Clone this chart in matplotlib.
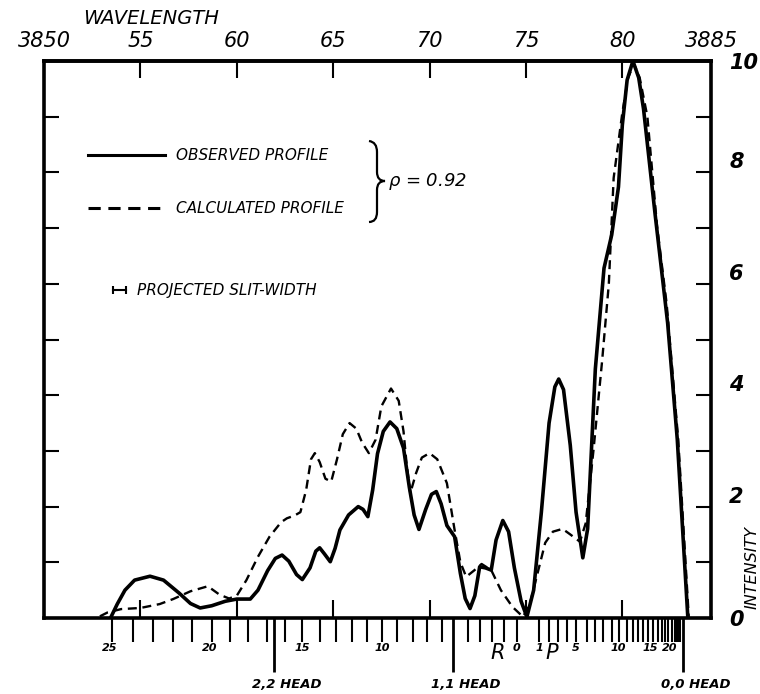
import numpy as np
import matplotlib.pyplot as plt
from matplotlib.path import Path
from matplotlib.patches import PathPatch

# observed profile: wavelength (A) and relative intensity
obs_wl = [3853.45, 3853.8, 3854.2, 3854.7, 3855.5, 3856.2, 3857.0, 3857.6, 3858.1, 3858.7,
          3859.4, 3860.0, 3860.7, 3861.1, 3861.6, 3862.0, 3862.35, 3862.7, 3863.1, 3863.4,
          3863.8, 3864.1, 3864.3, 3864.55, 3864.85, 3865.1, 3865.35, 3865.8, 3866.3, 3866.55,
          3866.8, 3867.05, 3867.3, 3867.6, 3867.95, 3868.3, 3868.65, 3868.95, 3869.2, 3869.45,
          3869.8, 3870.1, 3870.35, 3870.6, 3870.9, 3871.3, 3871.6, 3871.85, 3872.1, 3872.35,
          3872.6, 3872.9, 3873.2, 3873.45, 3873.8, 3874.1, 3874.4, 3874.75, 3875.05, 3875.4,
          3875.8, 3876.2, 3876.5, 3876.7, 3876.95, 3877.3, 3877.6, 3877.95, 3878.2, 3878.6,
          3879.05, 3879.45, 3879.8, 3880.0, 3880.25, 3880.55, 3880.85, 3881.1, 3881.7, 3882.35,
          3882.85, 3883.4]
obs_int = [0.0, 0.25, 0.5, 0.68, 0.75, 0.68, 0.45, 0.26, 0.18, 0.22,
           0.30, 0.34, 0.34, 0.5, 0.85, 1.07, 1.13, 1.02, 0.78, 0.69,
           0.9, 1.2, 1.26, 1.15, 1.01, 1.25, 1.58, 1.85, 2.0, 1.95,
           1.82, 2.3, 2.95, 3.35, 3.52, 3.4, 3.05, 2.35, 1.85, 1.59,
           1.95, 2.22, 2.27, 2.05, 1.66, 1.46, 0.8, 0.35, 0.17, 0.4,
           0.92, 0.9, 0.86, 1.4, 1.75, 1.55, 0.9, 0.3, 0.02, 0.5,
           1.9, 3.5, 4.15, 4.29, 4.1, 3.1, 1.9, 1.08, 1.6, 4.47,
           6.28, 6.88, 7.74, 8.85, 9.66, 10.0, 9.7, 9.14, 7.25, 5.3,
           3.21, 0.0]

# calculated profile
calc_wl = [3852.9, 3853.3, 3854.0, 3855.0, 3856.0, 3856.7, 3857.6, 3858.5, 3859.1, 3859.6,
           3860.0, 3860.5, 3861.1, 3861.7, 3862.3, 3862.6, 3863.0, 3863.3, 3863.6, 3863.85,
           3864.05, 3864.3, 3864.6, 3864.9, 3865.2, 3865.5, 3865.85, 3866.2, 3866.5, 3866.85,
           3867.2, 3867.5, 3868.0, 3868.4, 3868.65, 3868.8, 3869.0, 3869.3, 3869.6, 3870.0,
           3870.4, 3870.9, 3871.3, 3871.6, 3871.9, 3872.3, 3872.7, 3873.2, 3873.7, 3874.3,
           3874.85, 3875.2, 3875.6, 3876.0, 3876.4, 3876.9, 3877.3, 3877.8, 3878.1, 3878.5,
           3878.95, 3879.3, 3879.55, 3879.8, 3880.0, 3880.3, 3880.6, 3880.9, 3881.3, 3881.8,
           3882.3, 3882.9, 3883.45]
calc_int = [0.03, 0.1, 0.16, 0.18, 0.25, 0.34, 0.48, 0.57, 0.42, 0.35,
            0.4, 0.68, 1.1, 1.46, 1.72, 1.79, 1.84, 1.9, 2.3, 2.85,
            2.96, 2.8, 2.5, 2.45, 2.85, 3.3, 3.5, 3.4, 3.15, 2.96,
            3.2, 3.8, 4.12, 3.9, 3.35, 2.8, 2.24, 2.6, 2.88, 2.96,
            2.85, 2.42, 1.58, 1.0, 0.74, 0.85, 0.97, 0.86, 0.5, 0.2,
            0.02, 0.25, 0.8, 1.35, 1.55, 1.6, 1.5, 1.37, 1.7, 3.0,
            4.61, 6.0, 7.9, 8.55, 9.07, 9.7, 9.95, 9.7, 9.0, 7.04,
            5.64, 3.2, 0.0]

wl_ticks = [3850, 3855, 3860, 3865, 3870, 3875, 3880, 3884.6]
wl_labels = ['3850', '55', '60', '65', '70', '75', '80', '3885']
int_ticks = [0, 2, 4, 6, 8, 10]
int_labels = ['0', '2', '4', '6', '8', '10']

# rotational line positions on the lower scale
line_ticks = [3853.51, 3854.60, 3855.67, 3856.71, 3857.69, 3858.70, 3859.65, 3860.60, 3861.55,
              3862.50, 3863.37, 3864.32, 3865.15, 3865.96, 3866.77, 3867.52, 3868.32, 3869.12,
              3869.88, 3870.63, 3872.01, 3872.61, 3873.22, 3873.86, 3874.52, 3875.69, 3876.21,
              3876.68, 3877.14, 3877.59, 3878.15, 3878.58, 3879.01, 3879.45, 3879.84, 3880.22,
              3880.53, 3880.82, 3881.08, 3881.34, 3881.60, 3881.86, 3882.04, 3882.21, 3882.38,
              3882.56, 3882.73, 3882.82, 3882.90, 3882.99]
line_label_pos = [3853.42, 3858.61, 3863.38, 3867.53, 3874.52, 3875.69, 3877.59, 3879.79,
                  3881.43, 3882.47]
line_labels = ['25', '20', '15', '10', '0', '1', '5', '10', '15', '20']
branch_pos = [3873.55, 3876.33]
branch_labels = ['R', 'P']
head_pos = [3861.95, 3871.23, 3883.16]
head_labels = ['2,2 HEAD', '1,1 HEAD', '0,0 HEAD']

plt.rcParams['font.family'] = 'DejaVu Sans'
plt.rcParams['font.style'] = 'italic'

fig = plt.figure(figsize=(7.6, 6.94), dpi=100)
ax = fig.add_axes([44 / 760, 1 - 618 / 694, 667 / 760, 557 / 694])

ax.plot(obs_wl, obs_int, color='black', lw=2.6, solid_joinstyle='round', solid_capstyle='round')
ax.plot(calc_wl, calc_int, color='black', lw=1.7, linestyle=(0, (3.8, 2.4)))

ax.set_xlim(3850, 3884.6)
ax.set_ylim(0, 10)
for s in ax.spines.values():
    s.set_linewidth(2.6)

# lower scale: rotational lines outward, wavelength marks inward
ax.set_xticks(line_ticks)
ax.set_xticklabels([])
ax.set_xticks([3855, 3860, 3865, 3870, 3875, 3880], minor=True)
ax.tick_params(axis='x', which='major', direction='out', length=17, width=1.5)
ax.tick_params(axis='x', which='minor', direction='in', length=13, width=1.5)

tr = ax.get_xaxis_transform()
for x, t in zip(line_label_pos, line_labels):
    ax.text(x, -0.054, t, transform=tr, ha='center', va='center', fontsize=8, fontweight='bold')
for x, t in zip(branch_pos, branch_labels):
    ax.text(x, -0.062, t, transform=tr, ha='center', va='center', fontsize=15)
ax.vlines(head_pos, -0.097, 0, transform=tr, colors='black', lw=2, clip_on=False)
for x, t in zip(head_pos, head_labels):
    ax.annotate(t, (x, -0.12), xycoords=tr, xytext=(-16, 0), textcoords='offset points',
                ha='left', va='center', fontsize=9.5, fontweight='bold')

# wavelength scale on top
top = ax.secondary_xaxis('top')
top.set_xticks(wl_ticks, wl_labels)
top.tick_params(direction='in', length=12, width=1.5, pad=7, labelsize=15)
top.spines['top'].set_linewidth(2.6)
ax.text(0.16, 1.076, 'WAVELENGTH', transform=ax.transAxes, ha='center', va='center', fontsize=14)

# intensity on the right
ax.set_yticks(int_ticks, int_labels)
ax.set_yticks([1, 3, 5, 7, 9], minor=True)
ax.yaxis.tick_right()
ax.tick_params(axis='y', which='both', left=True, right=True, direction='in', length=11,
               width=1.5, labelleft=False, labelright=True, pad=13, labelsize=15)
ylabs = ax.get_yticklabels()
for i, lab in enumerate(ylabs):
    lab.set_fontweight('bold')
    if 0 < i < len(ylabs) - 1:
        lab.set_verticalalignment('bottom')
ax.text(1.062, 0.09, 'INTENSITY', transform=ax.transAxes, rotation=90, ha='center', va='center',
        fontsize=11.5)

# legend drawn by hand like the original
ax.plot([0.066, 0.181], [0.831, 0.831], transform=ax.transAxes, color='black', lw=2.2)
ax.plot([0.066, 0.181], [0.736, 0.736], transform=ax.transAxes, color='black', lw=2.2,
        linestyle=(0, (4, 2.5)))
ax.text(0.198, 0.831, 'OBSERVED PROFILE', transform=ax.transAxes, va='center', fontsize=11)
ax.text(0.198, 0.736, 'CALCULATED PROFILE', transform=ax.transAxes, va='center', fontsize=11)
bx = lambda px: (px - 44) / 667
by = lambda py: (618 - py) / 557
brace = Path([(bx(369), by(141)), (bx(377), by(142)), (bx(377), by(152)),
              (bx(377), by(172)),
              (bx(377), by(181)), (bx(385), by(181)),
              (bx(377), by(181)), (bx(377), by(190)),
              (bx(377), by(212)),
              (bx(377), by(222)), (bx(369), by(222))],
             [Path.MOVETO, Path.CURVE3, Path.CURVE3, Path.LINETO, Path.CURVE3, Path.CURVE3,
              Path.CURVE3, Path.CURVE3, Path.LINETO, Path.CURVE3, Path.CURVE3])
ax.add_patch(PathPatch(brace, transform=ax.transAxes, fill=False, lw=1.6, color='black'))
ax.text(bx(388), by(181), r'$\rho$ = 0.92', transform=ax.transAxes, va='center', fontsize=13)

ax.plot([bx(113), bx(126)], [by(290), by(290)], transform=ax.transAxes, color='black', lw=1.5,
        marker='|', markersize=6, markeredgewidth=1.5)
ax.text(bx(137), by(290), 'PROJECTED SLIT-WIDTH', transform=ax.transAxes, va='center', fontsize=11)

fig.savefig('out.png', dpi=100)
